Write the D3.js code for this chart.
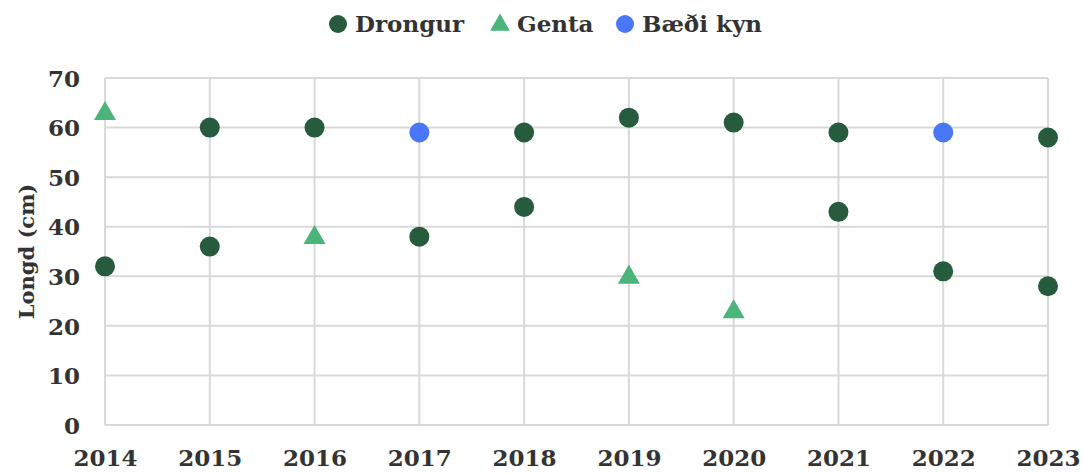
<!DOCTYPE html>
<html><head><meta charset="utf-8">
<script src="https://cdn.jsdelivr.net/npm/d3@7"></script>
<style>
body{margin:0;background:#fff;}
text{font-family:"DejaVu Serif",serif;font-weight:bold;fill:#333;}
</style></head>
<body><svg id="c" width="1083" height="474"></svg>
<script>
const years = [2014,2015,2016,2017,2018,2019,2020,2021,2022,2023];
const yTicks = [0,10,20,30,40,50,60,70];
const drongurYears = [2014,2015,2015,2016,2017,2018,2018,2019,2020,2021,2021,2022,2023,2023];
const drongurValues = [32,60,36,60,38,59,44,62,61,59,43,31,58,28];
const gentaYears = [2014,2016,2019,2020];
const gentaValues = [63,38,30,23];
const baediYears = [2017,2022];
const baediValues = [59,59];
const seriesNames = ["Drongur","Genta","Bæði kyn"];
const colors = ["#265b3d","#4bb47a","#4a76f8"];

const svg = d3.select("#c");
const x = d3.scaleLinear().domain([2014,2023]).range([105,1048]);
const y = d3.scaleLinear().domain([0,70]).range([425,78]);

const g = svg.append("g");
g.selectAll(".hg").data(yTicks).join("line")
 .attr("x1",x(2014)).attr("x2",x(2023)).attr("y1",d=>y(d)).attr("y2",d=>y(d))
 .attr("stroke","#d9d9d9").attr("stroke-width",2);
g.selectAll(".vg").data(years).join("line")
 .attr("x1",d=>x(d)).attr("x2",d=>x(d)).attr("y1",y(0)).attr("y2",y(70))
 .attr("stroke","#d9d9d9").attr("stroke-width",2);

const yAxis = svg.append("g").attr("transform",`translate(${x(2014)},0)`)
 .call(d3.axisLeft(y).tickValues(yTicks).tickSize(0).tickPadding(25));
yAxis.select(".domain").remove();
yAxis.selectAll("text").attr("font-size",23).attr("dy","0.36em").style("font-family","DejaVu Serif").style("font-weight","bold").attr("fill","#333");

const xAxis = svg.append("g").attr("transform",`translate(0,${y(0)})`)
 .call(d3.axisBottom(x).tickValues(years).tickFormat(d3.format("d")).tickSize(0).tickPadding(33));
xAxis.select(".domain").remove();
xAxis.selectAll("text").attr("font-size",23).attr("dy","0.36em").style("font-family","DejaVu Serif").style("font-weight","bold").attr("fill","#333");

svg.append("text").attr("transform",`translate(34,${(y(0)+y(70))/2}) rotate(-90)`)
 .attr("text-anchor","middle").attr("font-size",21).text("Longd (cm)");

const tri = d3.symbol().type(d3.symbolTriangle).size(210);
svg.append("g").selectAll("circle").data(drongurYears.map((d,i)=>[d,drongurValues[i]])).join("circle")
 .attr("cx",d=>x(d[0])).attr("cy",d=>y(d[1])).attr("r",10).attr("fill",colors[0]);
svg.append("g").selectAll("path").data(gentaYears.map((d,i)=>[d,gentaValues[i]])).join("path")
 .attr("d",tri).attr("transform",d=>`translate(${x(d[0])},${y(d[1])+1})`).attr("fill",colors[1]);
svg.append("g").selectAll("circle").data(baediYears.map((d,i)=>[d,baediValues[i]])).join("circle")
 .attr("cx",d=>x(d[0])).attr("cy",d=>y(d[1])).attr("r",10).attr("fill",colors[2]);

const leg = svg.append("g");
const lx = [338,500,625];
leg.append("circle").attr("cx",lx[0]).attr("cy",24).attr("r",9).attr("fill",colors[0]);
leg.append("path").attr("d",d3.symbol().type(d3.symbolTriangle).size(170)).attr("transform",`translate(${lx[1]},25)`).attr("fill",colors[1]);
leg.append("circle").attr("cx",lx[2]).attr("cy",24).attr("r",9).attr("fill",colors[2]);
seriesNames.forEach((n,i)=>{
  leg.append("text").attr("x",lx[i]+17).attr("y",24).attr("dy","0.36em").attr("font-size",23).text(n);
});
</script></body></html>
